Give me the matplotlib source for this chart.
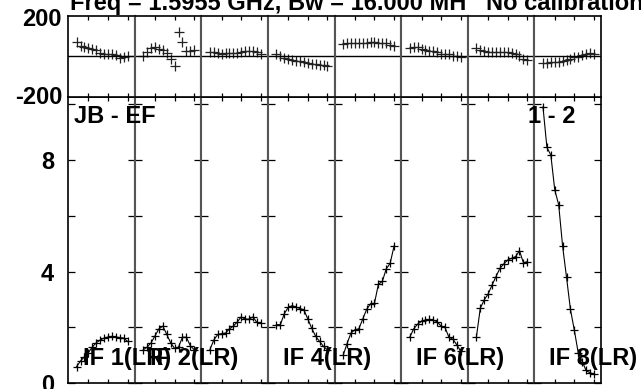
import matplotlib
matplotlib.use("Agg")
import matplotlib.pyplot as plt

plt.rcParams['font.family'] = ['Liberation Sans', 'DejaVu Sans']
plt.rcParams['font.weight'] = 'bold'

W, H = 641, 389

channels = list(range(2, 16))

amp_if1 = [0.6, 0.8, 0.95, 1.1, 1.3, 1.45, 1.55, 1.62, 1.66, 1.68, 1.66, 1.64, 1.62, 1.5]
amp_if2 = [1.2, 1.3, 1.45, 1.7, 1.95, 2.05, 1.75, 1.45, 1.25, 1.3, 1.65, 1.65, 1.35, 1.2]
amp_if3 = [1.2, 1.55, 1.75, 1.78, 1.8, 1.95, 2.05, 2.2, 2.38, 2.3, 2.3, 2.38, 2.18, 2.15]
amp_if4 = [2.1, 2.1, 2.5, 2.72, 2.78, 2.73, 2.68, 2.63, 2.3, 1.97, 1.68, 1.5, 1.32, 1.2]
amp_if5 = [1.0, 1.42, 1.8, 1.92, 1.95, 2.3, 2.65, 2.85, 2.87, 3.55, 3.65, 4.1, 4.3, 4.92]
amp_if6 = [1.65, 1.95, 2.12, 2.22, 2.27, 2.29, 2.27, 2.2, 2.05, 2.0, 1.65, 1.58, 1.38, 1.15]
amp_if7 = [1.65, 2.69, 2.99, 3.2, 3.52, 3.82, 4.12, 4.28, 4.42, 4.48, 4.54, 4.75, 4.32, 4.36]
amp_if8 = [9.9, 8.45, 8.18, 6.93, 6.4, 4.92, 3.8, 2.65, 1.9, 1.08, 0.78, 0.46, 0.38, 0.33]

phase_if1 = [68, 48, 44, 42, 38, 30, 18, 12, 10, 10, 4, -8, -2, 3]
phase_if2 = [0, 20, 41, 46, 36, 30, 17, -13, -46, 118, 69, 25, 25, 30]
phase_if3 = [22, 22, 17, 12, 17, 18, 18, 18, 20, 28, 28, 25, 22, 12]
phase_if4 = [13, 0, -8, -16, -20, -22, -23, -27, -33, -38, -40, -42, -43, -46]
phase_if5 = [58, 64, 66, 67, 67, 66, 66, 68, 68, 66, 65, 63, 56, 50]
phase_if6 = [41, 46, 43, 38, 32, 28, 25, 20, 13, 12, 10, 2, 0, -2]
phase_if7 = [41, 30, 25, 22, 20, 19, 19, 19, 19, 17, 12, 0, -12, -20]
phase_if8 = [-36, -32, -31, -30, -30, -26, -17, -12, -5, -2, 8, 13, 15, 13]

amps = [amp_if1, amp_if2, amp_if3, amp_if4, amp_if5, amp_if6, amp_if7, amp_if8]
phases = [phase_if1, phase_if2, phase_if3, phase_if4, phase_if5, phase_if6, phase_if7, phase_if8]

if_labels = ["IF 1(LR)", "IF 2(LR)", None, "IF 4(LR)", None, "IF 6(LR)", None, "IF 8(LR)"]
amp_ticks = [0, 2, 4, 6, 8, 10]
amp_ticklabels = ["0", "", "4", "", "8", ""]
chan_ticks = [5, 10, 15]

x0, x1 = 68.0, 601.0
pw = (x1 - x0) / 8
amp_bot, amp_top = 383.3, 96.7
ph_top = 15.7

fig = plt.figure(figsize=(W / 100, H / 100), dpi=100)
fs = 17
divider = '#555555'

for i in range(8):
    xl = x0 + i * pw
    axA = fig.add_axes([xl / W, (H - amp_bot) / H, pw / W, (amp_bot - amp_top) / H])
    axP = fig.add_axes([xl / W, (H - amp_top) / H, pw / W, (amp_top - ph_top) / H])

    axA.plot(channels, amps[i], color='black', lw=0.8, marker='+', ms=6, mew=0.9)
    axP.plot(channels, phases[i], ls='none', color='#222222', marker='+', ms=6.5, mew=0.9)
    axP.axhline(0, color='black', lw=1.0)

    for ax in (axA, axP):
        ax.set_xlim(-0.2, 16.8)
        ax.set_xticks(chan_ticks)
        ax.tick_params(axis='x', direction='in', length=3, width=0.9, top=True, bottom=True,
                       labelbottom=False, labeltop=False)
        for s in ax.spines.values():
            s.set_linewidth(1.2)
            s.set_color('black')
        if i > 0:
            ax.spines['left'].set_color(divider)
            ax.spines['left'].set_linewidth(1.5)
        if i < 7:
            ax.spines['right'].set_color(divider)
            ax.spines['right'].set_linewidth(1.5)

    axA.set_ylim(0, 10.27)
    axA.set_yticks(amp_ticks)
    axA.tick_params(axis='y', direction='in', length=5, width=0.9, left=True, right=True,
                    labelleft=(i == 0), labelsize=fs, pad=10)
    if i == 0:
        axA.set_yticklabels(amp_ticklabels, fontweight='bold')

    axP.set_ylim(-200, 200)
    axP.set_yticks([])

    if if_labels[i]:
        fig.text((xl + 15) / W, (H - 365) / H, if_labels[i],
                 fontsize=fs, fontweight='bold', va='baseline', ha='left', zorder=10)

fig.text(62 / W, (H - 19.5) / H, "200", fontsize=fs, fontweight='bold', ha='right', va='center')
fig.text(62 / W, (H - 97) / H, "-200", fontsize=fs, fontweight='bold', ha='right', va='center')

fig.text(74 / W, (H - 123) / H, "JB - EF", fontsize=fs, fontweight='bold', va='baseline', zorder=10)
fig.text(528 / W, (H - 123) / H, "1 - 2", fontsize=fs, fontweight='bold', va='baseline', zorder=10)

fig.text(70 / W, (H - 10) / H, "Freq = 1.5955 GHz, Bw = 16.000 MH", fontsize=fs,
         fontweight='bold', va='baseline')
fig.text(486 / W, (H - 10) / H, "No calibration", fontsize=fs, fontweight='bold', va='baseline')

fig.savefig("out.png", dpi=100)
